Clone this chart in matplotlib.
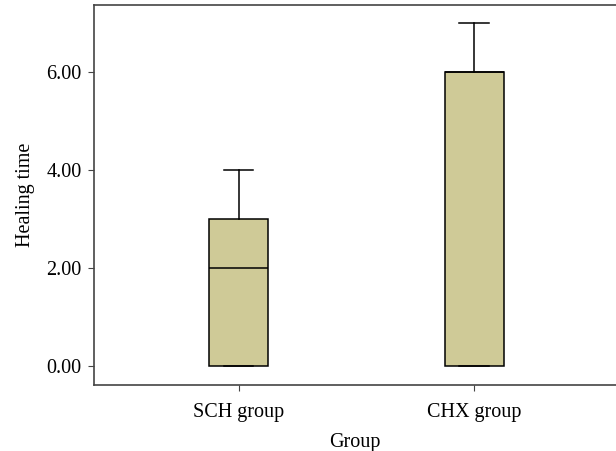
import matplotlib
matplotlib.use("Agg")
from matplotlib import pyplot as plt
from matplotlib.ticker import FormatStrFormatter

groups = ["SCH group", "CHX group"]
q1 = [0, 0]
medians = [2, 6]
q3 = [3, 6]
whislo = [0, 0]
whishi = [4, 7]

plt.rcParams['font.family'] = ['Liberation Serif', 'DejaVu Serif']

fig = plt.figure(figsize=(6.16, 4.51), dpi=100)
ax = fig.add_axes([94/616, 1 - 385/451, 1 - 94/616, 380/451])

stats = []
for i in range(len(groups)):
    stats.append({"label": groups[i], "q1": q1[i], "med": medians[i], "q3": q3[i],
                  "whislo": whislo[i], "whishi": whishi[i], "fliers": []})

ax.bxp(stats, positions=[1, 2], widths=0.25, capwidths=0.125, patch_artist=True,
       boxprops=dict(facecolor="#cfca97", edgecolor="black", linewidth=1.1),
       medianprops=dict(color="black", linewidth=1.1),
       whiskerprops=dict(color="black", linewidth=1.1),
       capprops=dict(color="black", linewidth=1.1),
       showfliers=False)

ax.set_xlim(0.385, 2.603)
ax.set_ylim(-0.39, 7.36)
ax.set_yticks([0, 2, 4, 6])
ax.yaxis.set_major_formatter(FormatStrFormatter("%.2f"))
ax.spines["right"].set_visible(False)
for s in ["left", "top", "bottom"]:
    ax.spines[s].set_color("#444444")
    ax.spines[s].set_linewidth(1.2)
ax.tick_params(labelsize=14.5, length=4, color="#444444")
ax.tick_params(axis="x", pad=9)
ax.tick_params(axis="y", pad=5)
ax.set_xlabel("Group", fontsize=14.5, labelpad=8)
ax.set_ylabel("Healing time", fontsize=14.5, labelpad=8)

fig.savefig("out.png", dpi=100)
